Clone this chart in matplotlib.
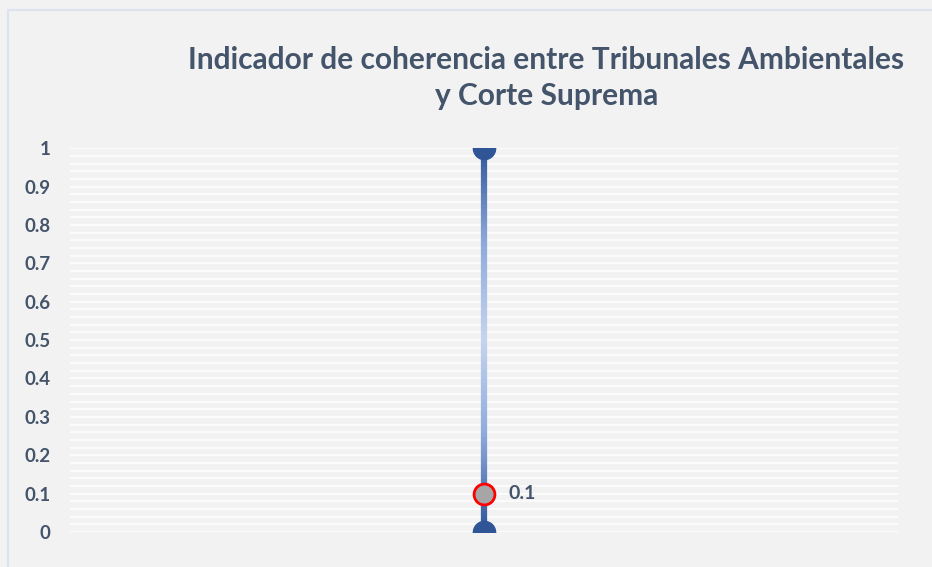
import numpy as np
import matplotlib.pyplot as plt
from matplotlib.collections import LineCollection
from matplotlib.colors import LinearSegmentedColormap
from matplotlib.patches import Rectangle

# Data
categories = ['Coherencia']
low_values = [0.0]
high_values = [1.0]
indicator_values = [0.1]
yticks = [0, 0.1, 0.2, 0.3, 0.4, 0.5, 0.6, 0.7, 0.8, 0.9, 1]
ytick_labels = ['0', '0.1', '0.2', '0.3', '0.4', '0.5', '0.6', '0.7', '0.8', '0.9', '1']

text_color = '#44546a'
bg = '#f2f2f2'

fig = plt.figure(figsize=(9.32, 5.67), dpi=100, facecolor=bg)
ax = fig.add_axes([0.0751, 0.0617, 0.8884, 0.677])
ax.set_facecolor(bg)

# frame around the chart
fig.patches.append(Rectangle((8 / 932, -0.1), 1.2, 1 - 10 / 567 + 0.1,
                             transform=fig.transFigure, fill=False,
                             edgecolor='#dde3ec', linewidth=1.6, zorder=0))

# gridlines every 0.02
for g in np.arange(0, 1.0001, 0.02):
    ax.axhline(g, color='white', linewidth=1.1, zorder=1)

# gradient high-low line
cmap = LinearSegmentedColormap.from_list('hl', ['#2f5597', '#8eaadb', '#c5d4ee', '#8eaadb', '#2f5597'])
for i, cat in enumerate(categories):
    ys = np.linspace(low_values[i], high_values[i], 200)
    pts = np.array([[i] * len(ys), ys]).T.reshape(-1, 1, 2)
    segs = np.concatenate([pts[:-1], pts[1:]], axis=1)
    lc = LineCollection(segs, cmap=cmap, linewidths=4.5, zorder=3)
    lc.set_array((ys[:-1] - low_values[i]) / (high_values[i] - low_values[i]))
    lc.set_clim(0, 1)
    ax.add_collection(lc)
    ax.plot([i, i], [low_values[i], high_values[i]], 'o', color='#2f5597',
            markersize=16, zorder=4)
    ax.plot(i, indicator_values[i], 'o', markerfacecolor='#a6a6a6',
            markeredgecolor='#ff0000', markeredgewidth=2, markersize=15,
            zorder=5, clip_on=False)
    ax.annotate(f'{indicator_values[i]:g}', (i, indicator_values[i]),
                textcoords='offset points', xytext=(18, 0), va='center',
                ha='left', fontsize=14, fontweight='bold', color=text_color,
                family='Lato')

ax.set_xlim(-0.5, 0.5)
ax.set_ylim(0, 1)
ax.set_xticks([])
ax.set_yticks(yticks)
ax.set_yticklabels(ytick_labels, fontsize=13.5, fontweight='bold',
                   color=text_color, family='Lato')
ax.tick_params(axis='y', length=0, pad=14)
for s in ax.spines.values():
    s.set_visible(False)

fig.text(0.5864, 0.862, 'Indicador de coherencia entre Tribunales Ambientales\ny Corte Suprema',
         ha='center', va='center', fontsize=21.5, fontweight='bold',
         color=text_color, family='Lato', linespacing=1.35)

fig.savefig('out.png', dpi=100, facecolor=bg)
